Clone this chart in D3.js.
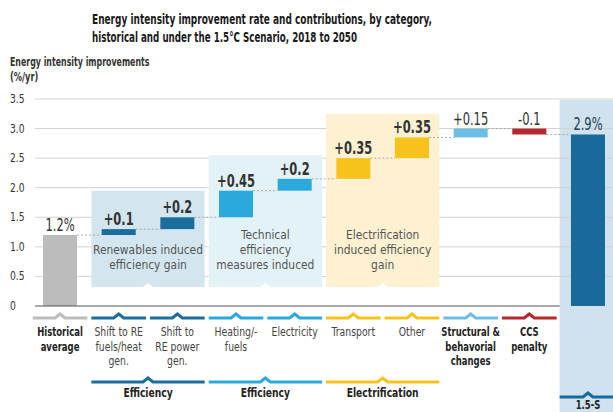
<!DOCTYPE html>
<html>
<head>
<meta charset="utf-8">
<script src="https://cdn.jsdelivr.net/npm/d3@7"></script>
<style>
body { margin: 0; background: #fff; }
svg { display: block; }
text { font-family: "Liberation Sans Narrow", "DejaVu Sans Condensed", "Arial Narrow", sans-serif; }
</style>
</head>
<body>
<div id="chart"></div>
<script>
var width = 613, height = 412;

// ====================== data
var categories = ["hist", "refuel", "repower", "heat", "elec", "transport", "other", "struct", "ccs", "scen"];
var catLabels = [
    ["Historical", "average"],
    ["Shift to RE", "fuels/heat", "gen."],
    ["Shift to", "RE power", "gen."],
    ["Heating/-", "fuels"],
    ["Electricity"],
    ["Transport"],
    ["Other"],
    ["Structural &", "behavorial", "changes"],
    ["CCS", "penalty"],
    ["1.5-S"]
];
var boldLabel = [true, false, false, false, false, false, false, true, true, true];
var deltas = [1.2, 0.1, 0.2, 0.45, 0.2, 0.35, 0.35, 0.15, -0.1, 2.9];
var isTotal = [true, false, false, false, false, false, false, false, false, true];
var valueLabels = ["1.2%", "+0.1", "+0.2", "+0.45", "+0.2", "+0.35", "+0.35", "+0.15", "-0.1", "2.9%"];
var boldValue = [false, true, true, true, true, true, true, false, false, false];
var colors = ["#bcbcbc", "#1b6e9c", "#1b6e9c", "#2ba9dc", "#2ba9dc", "#f8c21c", "#f8c21c", "#6dbde4", "#b3282d", "#19699a"];
var yTicks = [0, 0.5, 1.0, 1.5, 2.0, 2.5, 3.0, 3.5];

var groups = ["Renewables induced efficiency gain", "Technical efficiency measures induced", "Electrification induced efficiency gain"];
var groupText = [["Renewables induced", "efficiency gain"], ["Technical", "efficiency", "measures induced"], ["Electrification", "induced efficiency", "gain"]];
var groupFirst = ["refuel", "heat", "transport"];
var groupLast = ["repower", "elec", "other"];
var groupTop = [1.95, 2.55, 3.25];
var groupBottom = [0.32, 0.32, 0.32];
var groupFill = ["#d3e6ef", "#e3f2f7", "#fdf1d2"];
var groupColor = ["#1b6e9c", "#2ba9dc", "#f8c21c"];
var groupName = ["Efficiency", "Efficiency", "Electrification"];

// squeeze text horizontally, the original uses a narrow face
function condense(sel, f) {
    sel.each(function () {
        var len = this.getComputedTextLength();
        d3.select(this).attr('textLength', len * f).attr('lengthAdjust', 'spacingAndGlyphs');
    });
    return sel;
}

// ====================== scales
var svg = d3.select('#chart').append('svg')
    .attr('width', width)
    .attr('height', height);

var x = d3.scaleBand().domain(categories).range([30.7, 617.3])
    .paddingInner(0.42).paddingOuter(0.21);
var y = d3.scaleLinear().domain([0, 3.5]).range([306, 99]);
var step = x.step(), bw = x.bandwidth(), half = (step - bw) / 2;

// waterfall start/end
var bars = [];
var run = 0;
for (var i = 0; i < categories.length; i++) {
    var b = {cat: categories[i], i: i};
    if (isTotal[i]) { b.y0 = 0; b.y1 = deltas[i]; run = deltas[i]; }
    else { b.y0 = run; b.y1 = run + deltas[i]; run = b.y1; }
    bars.push(b);
}

// ====================== title
var title = svg.append('g').attr('font-weight', 'bold').attr('font-size', 13.5).attr('fill', '#1a1a1a');
title.append('text').attr('x', 92).attr('y', 24)
    .attr('textLength', 340).attr('lengthAdjust', 'spacingAndGlyphs')
    .text('Energy intensity improvement rate and contributions, by category,');
title.append('text').attr('x', 92).attr('y', 42)
    .attr('textLength', 265).attr('lengthAdjust', 'spacingAndGlyphs')
    .text('historical and under the 1.5\u00b0C Scenario, 2018 to 2050');

condense(svg.append('text').attr('x', 10).attr('y', 66).attr('font-size', 11.5).attr('font-weight', 'bold')
    .attr('fill', '#333').text('Energy intensity improvements'), 0.76);
condense(svg.append('text').attr('x', 10).attr('y', 81).attr('font-size', 11.5).attr('font-weight', 'bold')
    .attr('fill', '#333').text('(%/yr)'), 0.8);

// ====================== 1.5-S band
var sx = x('scen') - half + 1;
svg.append('rect').attr('x', sx).attr('y', y(3.5) + 1)
    .attr('width', width - sx).attr('height', height - y(3.5))
    .attr('fill', '#cfe2ee');

// ====================== gridlines
svg.append('g').selectAll('line').data(yTicks.filter(function (d) { return d > 0; }))
    .enter().append('line')
    .attr('x1', 35).attr('x2', width)
    .attr('y1', function (d) { return y(d); }).attr('y2', function (d) { return y(d); })
    .attr('stroke', '#d2d2d2').attr('stroke-width', 1);

condense(svg.append('g').selectAll('text').data(yTicks).enter().append('text')
    .attr('x', 10).attr('y', function (d) { return y(d) + 4; })
    .attr('font-size', 12).attr('fill', '#333')
    .text(function (d) { return d === 0 ? '0' : d3.format('.1f')(d); }), 0.85);

// ====================== group boxes
for (var g = 0; g < groups.length; g++) {
    var gx0 = x(groupFirst[g]) - half + 2;
    var gx1 = x(groupLast[g]) + bw + half - 2;
    var gt = y(groupTop[g]), gb = y(groupBottom[g]);
    svg.append('rect').attr('x', gx0).attr('y', gt).attr('width', gx1 - gx0).attr('height', gb - gt)
        .attr('fill', groupFill[g]);
    var cx = (gx0 + gx1) / 2;
    svg.append('path').attr('d', 'M' + (cx - 5) + ',' + gb + 'L' + cx + ',' + (gb - 4) + 'L' + (cx + 5) + ',' + gb + 'Z')
        .attr('fill', '#fff');
    var lines = groupText[g];
    var ty = y(0.7) - (lines.length - 1) * 15 + 4;
    condense(svg.append('g').selectAll('text').data(lines).enter().append('text')
        .attr('x', cx).attr('y', function (d, k) { return ty + k * 15; })
        .attr('text-anchor', 'middle').attr('font-size', 12.5).attr('fill', '#555')
        .text(function (d) { return d; }), 0.95);

    // group line under labels
    svg.append('path')
        .attr('d', 'M' + gx0 + ',382L' + (cx - 5) + ',382L' + cx + ',378L' + (cx + 5) + ',382L' + gx1 + ',382')
        .attr('fill', 'none').attr('stroke', groupColor[g]).attr('stroke-width', 3);
    condense(svg.append('text').attr('x', cx).attr('y', 397).attr('text-anchor', 'middle')
        .attr('font-size', 12).attr('font-weight', 'bold').attr('fill', '#222').text(groupName[g]), 0.85);
}

// ====================== connectors
for (var j = 0; j < bars.length - 1; j++) {
    var lv = bars[j].y1;
    svg.append('line')
        .attr('x1', x(bars[j].cat) + bw).attr('x2', x(bars[j + 1].cat))
        .attr('y1', y(lv)).attr('y2', y(lv))
        .attr('stroke', '#a8a8a8').attr('stroke-width', 1).attr('stroke-dasharray', '2,2');
}

// ====================== bars
svg.append('g').selectAll('rect').data(bars).enter().append('rect')
    .attr('x', function (d) { return x(d.cat); })
    .attr('width', bw)
    .attr('y', function (d) { return y(Math.max(d.y0, d.y1)); })
    .attr('height', function (d) { return Math.abs(y(d.y0) - y(d.y1)); })
    .attr('fill', function (d) { return colors[d.i]; });

condense(svg.append('g').selectAll('text').data(bars).enter().append('text')
    .attr('x', function (d) { return x(d.cat) + bw / 2; })
    .attr('y', function (d) { return y(Math.max(d.y0, d.y1)) - 4; })
    .attr('text-anchor', 'middle').attr('font-size', 17)
    .attr('font-weight', function (d) { return boldValue[d.i] ? 'bold' : 'normal'; })
    .attr('fill', function (d) { return d.cat === 'scen' ? '#1d3f57' : '#333'; })
    .text(function (d) { return valueLabels[d.i]; }), 0.75);

// baseline
svg.append('line').attr('x1', 35).attr('x2', sx).attr('y1', y(0)).attr('y2', y(0))
    .attr('stroke', '#555').attr('stroke-width', 1.2);

// ====================== category markers and labels
bars.forEach(function (d) {
    var c = x(d.cat) + bw / 2;
    var ly = d.cat === 'scen' ? 397 : 318;
    var x0 = c - step / 2 + 2, x1 = d.cat === 'scen' ? width : c + step / 2 - 2;
    if (d.cat === 'scen') x0 = sx;
    svg.append('path')
        .attr('d', 'M' + x0 + ',' + ly + 'L' + (c - 5) + ',' + ly + 'L' + c + ',' + (ly - 4) + 'L' + (c + 5) + ',' + ly + 'L' + x1 + ',' + ly)
        .attr('fill', 'none').attr('stroke', colors[d.i]).attr('stroke-width', 3);
    var ty = d.cat === 'scen' ? 409 : 336;
    condense(svg.append('g').selectAll('text').data(catLabels[d.i]).enter().append('text')
        .attr('x', c).attr('y', function (t, k) { return ty + k * 14.5; })
        .attr('text-anchor', 'middle').attr('font-size', boldLabel[d.i] ? 11.5 : 12)
        .attr('font-weight', boldLabel[d.i] ? 'bold' : 'normal')
        .attr('fill', boldLabel[d.i] ? '#222' : '#444')
        .text(function (t) { return t; }), boldLabel[d.i] ? 0.82 : 0.86);
});
</script>
</body>
</html>
